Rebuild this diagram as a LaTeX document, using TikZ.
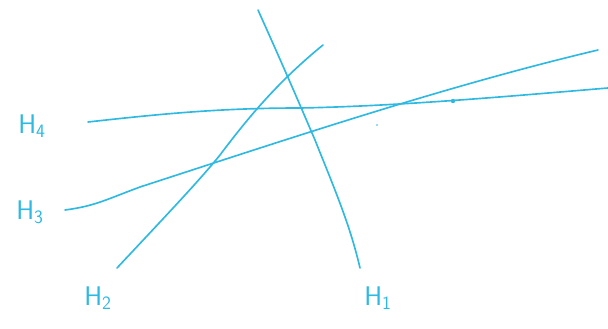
\documentclass[tikz,border=0pt]{standalone}
\definecolor{penblue}{RGB}{45,185,225}
\begin{document}
\begin{tikzpicture}[x=0.03cm, y=-0.03cm, line cap=round, line join=round]
\useasboundingbox (0,0) rectangle (608,328);
\tikzset{hline/.style={draw=penblue, line width=1.4pt},
         hlabel/.style={text=penblue, font=\sffamily\fontsize{23}{23}\selectfont, inner sep=0pt}}

\coordinate (h1s) at (258,10);
\coordinate (h1e) at (360,268);
\coordinate (h2s) at (117,268);
\coordinate (h2e) at (323,45);
\coordinate (h3s) at (65,210);
\coordinate (h3e) at (598,50);
\coordinate (h4s) at (88,122);
\coordinate (h4e) at (608,88);

\node[hlabel] (l1) at (378,298) {H\textsubscript{1}};
\node[hlabel] (l2) at (98,298) {H\textsubscript{2}};
\node[hlabel] (l3) at (30,212) {H\textsubscript{3}};
\node[hlabel] (l4) at (32,126) {H\textsubscript{4}};

\draw[hline] (h1s) .. controls (285,70) and (300,105) .. (315,140) .. controls (335,190) and (350,225) .. (h1e);
\draw[hline] (h2s) .. controls (160,222) and (200,180) .. (220,155) .. controls (250,115) and (280,80) .. (h2e);
\draw[hline] (h3s) .. controls (95,206) and (105,200) .. (140,187) .. controls (300,135) and (450,85) .. (h3e);
\draw[hline] (h4s) .. controls (160,114) and (220,108) .. (300,108) .. controls (400,106) and (500,97) .. (h4e);
\fill[penblue] (453,101) circle (2.2);
\fill[penblue] (377,125) circle (0.8);
\end{tikzpicture}
\end{document}
